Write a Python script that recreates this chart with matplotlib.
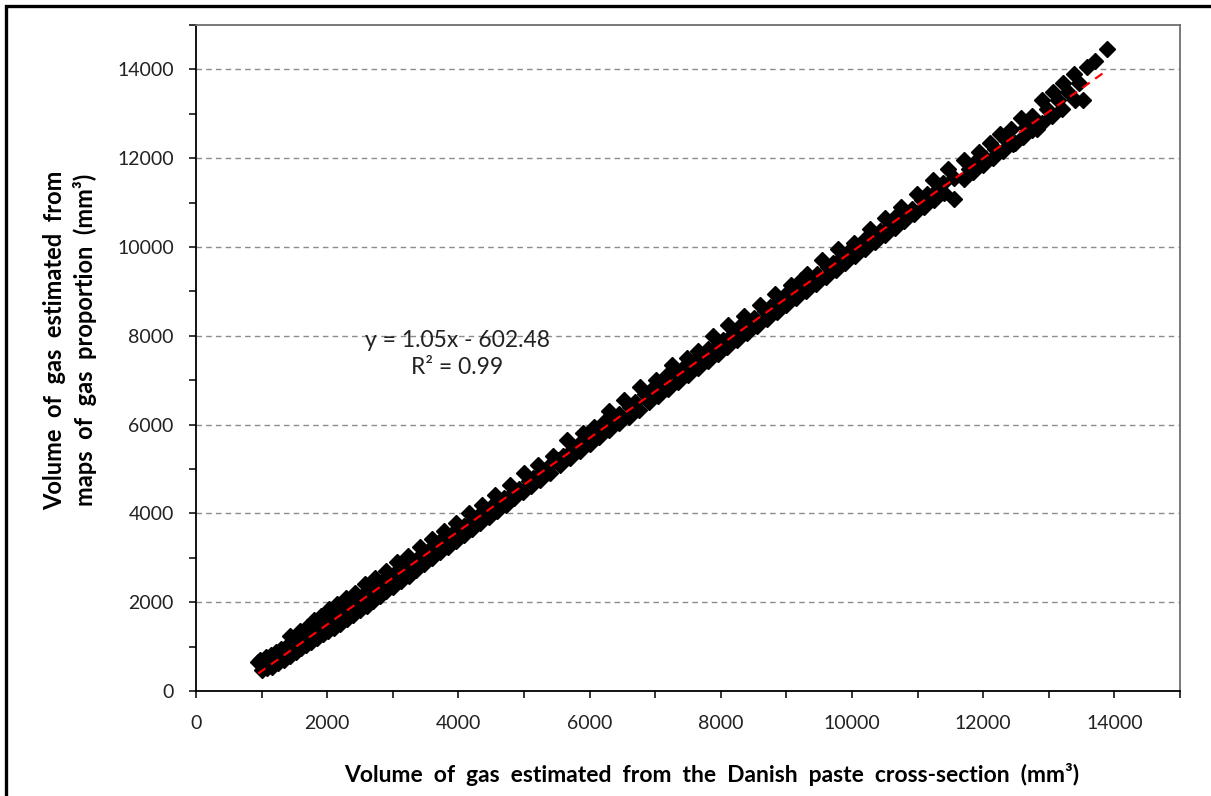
import matplotlib
matplotlib.use("Agg")
import matplotlib.pyplot as plt
from matplotlib.ticker import MultipleLocator, NullFormatter
from matplotlib.patches import Rectangle

plt.rcParams['font.family'] = ['Lato', 'DejaVu Sans']

# volume from the Danish paste cross-section (mm3)
x_danish = [950, 980, 1020, 1060, 1100, 1140, 1180, 1220, 1260, 1300,
            1330, 1370, 1400, 1440, 1470, 1500, 1540, 1580, 1610, 1650,
            1690, 1720, 1760, 1800, 1830, 1870, 1900, 1940, 1980, 2020,
            2060, 2100, 2150, 2190, 2240, 2290, 2330, 2380, 2430, 2480,
            2530, 2580, 2630, 2680, 2730, 2780, 2830, 2890, 2940, 3000,
            3060, 3110, 3170, 3230, 3290, 3350, 3410, 3470, 3530, 3590,
            3650, 3710, 3780, 3840, 3900, 3960, 4020, 4090, 4160, 4220,
            4290, 4360, 4420, 4490, 4560, 4630, 4700, 4780, 4850, 4920,
            5000, 5070, 5140, 5220, 5290, 5360, 5440, 5520, 5600, 5660,
            5740, 5820, 5900, 5980, 6060, 6140, 6220, 6290, 6370, 6450,
            6530, 6610, 6690, 6770, 6850, 6930, 7010, 7090, 7170, 7250,
            7330, 7410, 7490, 7570, 7650, 7720, 7800, 7880, 7950, 8030,
            8110, 8190, 8270, 8350, 8430, 8510, 8590, 8670, 8750, 8830,
            8910, 8990, 9070, 9150, 9230, 9310, 9390, 9470, 9550, 9630,
            9710, 9790, 9870, 9950, 10030, 10110, 10190, 10270, 10350, 10430,
            10510, 10590, 10670, 10750, 10830, 10910, 10990, 11070, 11150, 11230,
            11310, 11390, 11470, 11550, 11560, 11700, 11780, 11860, 11940, 12020,
            12100, 12180, 12260, 12340, 12420, 12480, 12580, 12660, 12740, 12820,
            12900, 12980, 13060, 13140, 13220, 13300, 13380, 13460, 13520, 13580,
            13700, 13880,
            # lower edge of the cloud
            1000, 1080, 1160, 1250, 1340, 1430, 1520, 1600, 1680, 1760,
            1850, 1930, 2010, 2100, 2200, 2300, 2400, 2500, 2600, 2700,
            2800, 2900, 3000, 3120, 3240, 3360, 3480, 3600, 3720, 3840,
            3960, 4080, 4200, 4330, 4460, 4590, 4720, 4850, 4980, 5110,
            5250, 5400, 5550, 5700, 5850, 6000, 6150, 6300, 6450, 6600,
            6750, 6900, 7050, 7200, 7350, 7500, 7650, 7800, 7950, 8100,
            8250, 8400, 8550, 8700, 8850, 9000, 9150, 9300, 9450, 9600,
            9750, 9900, 10050, 10200, 10350, 10500, 10650, 10800, 10950, 11100,
            11250, 11400, 11700, 11850, 12000, 12150, 12300, 12450, 12600, 12750,
            12900, 13050, 13200, 13400]

# volume from maps of gas proportion (mm3)
y_maps = [650, 700, 620, 760, 700, 820, 760, 880, 800, 950,
          860, 1000, 920, 1250, 1050, 1120, 1060, 1350, 1180, 1230,
          1450, 1300, 1380, 1600, 1420, 1500, 1700, 1560, 1620, 1850,
          1680, 1740, 1950, 1800, 1880, 2100, 1950, 2020, 2200, 2080,
          2150, 2400, 2250, 2320, 2550, 2380, 2460, 2700, 2550, 2620,
          2900, 2720, 2800, 3050, 2880, 2960, 3250, 3080, 3150, 3420,
          3260, 3350, 3600, 3450, 3530, 3780, 3650, 3720, 4000, 3860,
          3930, 4200, 4060, 4150, 4420, 4250, 4350, 4650, 4480, 4560,
          4900, 4720, 4800, 5100, 4950, 5050, 5300, 5200, 5300, 5650,
          5450, 5550, 5800, 5700, 5950, 5850, 6050, 6300, 6150, 6250,
          6550, 6400, 6500, 6850, 6680, 6780, 7000, 6900, 7100, 7350,
          7150, 7250, 7500, 7400, 7650, 7500, 7700, 8000, 7800, 7900,
          8250, 8050, 8200, 8450, 8300, 8400, 8700, 8550, 8650, 8950,
          8800, 8950, 9150, 9000, 9250, 9400, 9200, 9400, 9700, 9550,
          9650, 9950, 9800, 9900, 10100, 10000, 10150, 10400, 10200, 10350,
          10650, 10500, 10700, 10900, 10700, 10850, 11200, 11050, 11200, 11500,
          11300, 11450, 11750, 11550, 11080, 11950, 11750, 11900, 12150, 12000,
          12350, 12200, 12550, 12400, 12650, 12350, 12900, 12700, 12950, 12650,
          13300, 13100, 13500, 13300, 13700, 13500, 13900, 13700, 13300, 14050,
          14200, 14450,
          480, 520, 540, 620, 700, 790, 880, 960, 1040, 1110,
          1200, 1280, 1350, 1430, 1520, 1620, 1720, 1820, 1920, 2030,
          2140, 2250, 2350, 2480, 2600, 2730, 2860, 2990, 3120, 3250,
          3380, 3510, 3640, 3780, 3920, 4060, 4200, 4340, 4480, 4620,
          4760, 4920, 5080, 5240, 5400, 5560, 5720, 5870, 6030, 6180,
          6340, 6500, 6650, 6810, 6960, 7120, 7280, 7440, 7600, 7750,
          7910, 8070, 8230, 8380, 8540, 8700, 8850, 9000, 9170, 9330,
          9480, 9640, 9800, 9960, 10110, 10270, 10430, 10590, 10740, 10900,
          11060, 11220, 11530, 11690, 11850, 12000, 12160, 12320, 12480, 12640,
          12800, 12950, 13100, 13320]

# linear trend y = 1.05x - 602.48
slope = 1.05
intercept = -602.48
trend_x = [950, 13880]

fig = plt.figure(figsize=(12.11, 7.96), dpi=100)
ax = fig.add_axes([196 / 1211, 1 - 691 / 796, 984 / 1211, 666 / 796])

ax.plot(x_danish, y_maps, linestyle='none', marker='D', markersize=8.3,
        color='black', zorder=3)
ax.plot(trend_x, [slope * v + intercept for v in trend_x], color='#ff0000',
        linestyle=(0, (4, 3)), linewidth=1.6, zorder=4)

ax.set_xlim(0, 15000)
ax.set_ylim(0, 15000)
for axis in (ax.xaxis, ax.yaxis):
    axis.set_major_locator(MultipleLocator(2000))
    axis.set_minor_locator(MultipleLocator(1000))
    axis.set_minor_formatter(NullFormatter())
ax.tick_params(which='both', direction='out', length=5, width=1.1, color='black',
               labelsize=14, labelcolor='#222222')
ax.tick_params(axis='x', pad=12)
ax.tick_params(axis='y', pad=11)

ax.yaxis.grid(True, which='major', color='#8c8c8c', linestyle=(0, (4, 3)), linewidth=1.0)
ax.set_axisbelow(True)

for side in ('left', 'bottom'):
    ax.spines[side].set_color('black')
    ax.spines[side].set_linewidth(1.3)
for side in ('top', 'right'):
    ax.spines[side].set_color('#6e6e6e')
    ax.spines[side].set_linewidth(1.3)

ax.set_xlabel('Volume  of  gas  estimated  from  the  Danish  paste  cross-section  (mm³)',
              fontsize=16.5, fontweight='bold')
ax.xaxis.set_label_coords(0.524, -0.108)
ax.set_ylabel('Volume  of  gas  estimated  from\nmaps  of  gas  proportion  (mm³)',
              fontsize=17, fontweight='bold', linespacing=1.3)
ax.yaxis.label.set_va('center')
ax.yaxis.set_label_coords(-0.128, 0.527)

ax.text(3980, 7600, 'y = 1.05x - 602.48\nR² = 0.99', ha='center', va='center',
        multialignment='center', fontsize=16.5, color='#222222', linespacing=1.35,
        zorder=5)

fig.patches.append(Rectangle((6 / 1211, -0.05), 1.2, 1.05 - 6 / 796, fill=False,
                             edgecolor='black', linewidth=2.4, transform=fig.transFigure))

fig.savefig('out.png', dpi=100)
